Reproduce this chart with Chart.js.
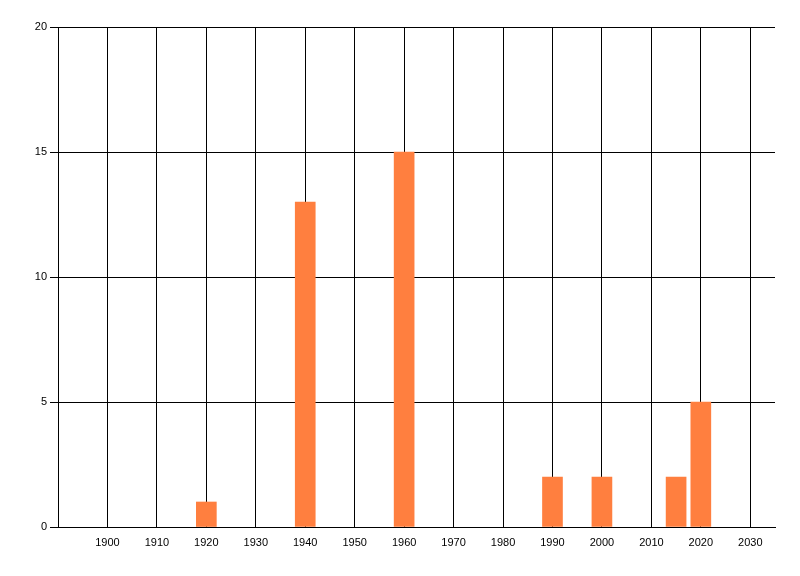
<!DOCTYPE html>
<html><head><meta charset="utf-8">
<script src="https://cdn.jsdelivr.net/npm/chart.js@4.4.1/dist/chart.umd.min.js"></script>
<style>html,body{margin:0;padding:0;background:#fff;}#wrap{width:800px;height:576px;}</style>
</head><body><div id="wrap"><canvas id="c" width="800" height="576"></canvas></div>
<script>
const years = [1920, 1940, 1960, 1990, 2000, 2015, 2020];
const counts = [1, 13, 15, 2, 2, 2, 5];
const xTicks = [1900, 1910, 1920, 1930, 1940, 1950, 1960, 1970, 1980, 1990, 2000, 2010, 2020, 2030];
const yTicks = [0, 5, 10, 15, 20];

const font = {family: '"Liberation Sans", Arial, sans-serif', size: 11};
new Chart(document.getElementById('c'), {
  type: 'bar',
  data: {
    datasets: [{
      data: years.map((y, i) => ({x: y, y: counts[i]})),
      backgroundColor: 'rgb(255,127,63)',
      borderWidth: 0,
      barThickness: 20
    }]
  },
  options: {
    responsive: false,
    animation: false,
    layout: {padding: {top: 27, right: 25, left: 0, bottom: 0}},
    plugins: {legend: {display: false}, tooltip: {enabled: false}},
    scales: {
      x: {
        type: 'linear', min: 1890, max: 2035, offset: false,
        afterBuildTicks: s => { s.ticks = xTicks.map(v => ({value: v})); },
        afterFit: s => { s.height = 49; },
        grid: {color: '#000', lineWidth: 1, drawTicks: false, offset: false},
        border: {color: '#000', width: 1},
        ticks: {color: '#000', font, padding: 9, maxRotation: 0, autoSkip: false, callback: v => String(v)}
      },
      y: {
        type: 'linear', min: 0, max: 20,
        afterBuildTicks: s => { s.ticks = yTicks.map(v => ({value: v})); },
        afterFit: s => { s.width = 58; },
        grid: {color: '#000', lineWidth: 1, tickLength: 8},
        border: {color: '#000', width: 1},
        ticks: {color: '#000', font, padding: 3, callback: v => String(v)}
      }
    }
  }
});
</script></body></html>
